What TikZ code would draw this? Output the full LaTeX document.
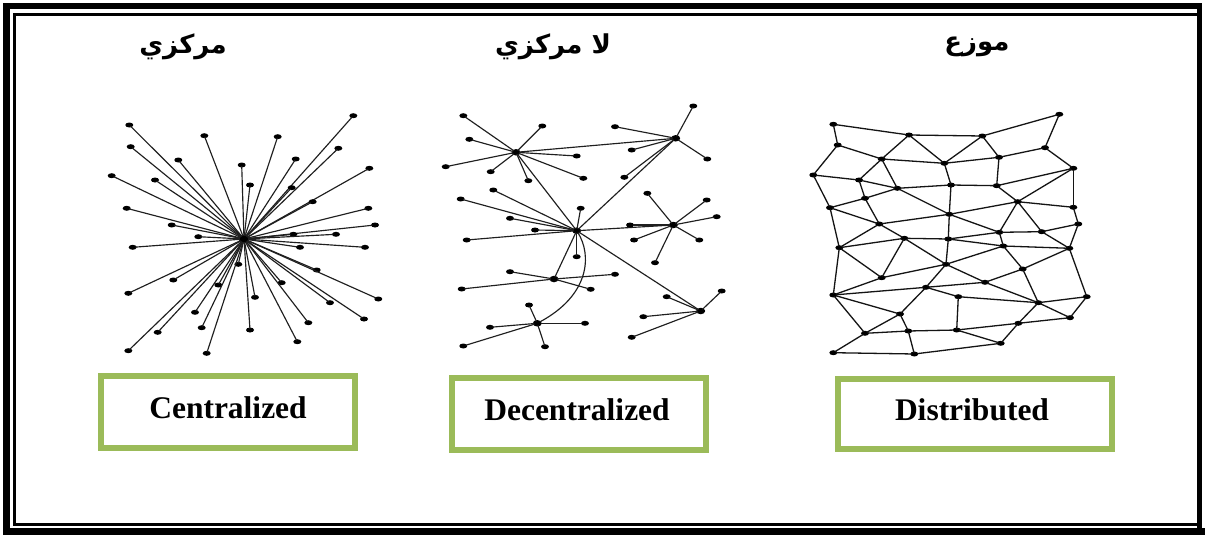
\documentclass[tikz,border=0pt]{standalone}
\usepackage{fontspec}
\setmainfont{Liberation Serif}
\newfontfamily\arabicfont[Script=Arabic]{DejaVu Sans}
\TeXXeTstate=1
\usetikzlibrary{shapes.geometric}
\definecolor{boxgreen}{HTML}{9BBB59}
\begin{document}
\begin{tikzpicture}[x=1pt,y=-1pt,
  dot/.style={ellipse,fill=black,draw=none,minimum width=8pt,minimum height=5pt,inner sep=0pt},
  hub/.style={ellipse,fill=black,draw=none,minimum width=9pt,minimum height=6.5pt,inner sep=0pt},
  edge/.style={draw=black!88,line width=1.15pt,shorten <=-1.5pt,shorten >=-1.5pt},
  mesh/.style={draw=black!92,line width=1.3pt,shorten <=-1.5pt,shorten >=-1.5pt},
  labelbox/.style={draw=boxgreen,line width=6pt,fill=white,inner sep=0pt},
  title/.style={font=\fontsize{31.5}{36}\selectfont\bfseries,anchor=base,inner sep=0pt},
  head/.style={font=\arabicfont\bfseries\fontsize{26}{30}\selectfont,inner sep=0pt}]
\useasboundingbox[fill=white] (0,0) rectangle (1205,535);
% page border
\fill[black] (3,3) rectangle (10,535);
\fill[black] (3,3) rectangle (1202,9.5);
\fill[black] (3,528) rectangle (1205,535);
\fill[black] (1197,3) rectangle (1202,528);
\draw[black,line width=3pt] (14.5,14.5) rectangle (1198,524.5);

% headings
\node[head] (h-c) at (183,47) {\beginR مركزي\endR};
\node[head] (h-d) at (553,47) {\beginR لا مركزي\endR};
\node[head] (h-s) at (977,47) {\beginR موزع\endR};

% label boxes
\node[labelbox,minimum width=254pt,minimum height=72pt] (b-c) at (228,412) {};
\node[labelbox,minimum width=254pt,minimum height=72pt] (b-d) at (579,414) {};
\node[labelbox,minimum width=274pt,minimum height=70pt] (b-s) at (975,414) {};
\node[title] (t-c) at (228,418) {Centralized};
\node[title] (t-d) at (577,420) {Decentralized};
\node[title] (t-s) at (972,420) {Distributed};

% centralized
\node[hub,minimum width=11pt,minimum height=9pt] (c0) at (244,239) {};
\foreach \x/\y [count=\i] in {129.3/125,204.3/135.7,277.7/136.7,353.3/115.7,130.7/146.7,178.3/160,241.7/165,295.7/159,338.3/148.3,111.7/175.7,155/180,250/185,291.7/187.7,369.3/168.3,312.7/201.7,126.7/208.3,368.3/208.3,171.7/225,375/225,198.3/236.7,293.3/234.3,336/234.3,132.7/247.3,300/247.3,365/247.3,238.3/264.3,316.7/270,173.3/280,281.7/282.7,218.3/285,128.3/293.3,255/297.3,378.3/299,330/302.7,195/312.3,308.3/322.7,364/319,157.7/332.3,201.7/327.7,250/330,297.3/341.7,128.3/350.7,206.7/353.3}
{
  \node[dot] (c\i) at (\x,\y) {};
  \draw[edge] (c0) -- (c\i);
}

% decentralized
\node[hub] (d1) at (516,152.3) {};
\node[hub] (d2) at (675.7,138.3) {};
\node[hub] (d3) at (576.7,230.7) {};
\node[hub] (d4) at (673.3,225) {};
\node[hub] (d5) at (554,279) {};
\node[hub] (d6) at (537.3,323.3) {};
\node[hub] (d7) at (700.7,311) {};
\foreach \a/\b in {d1/d2,d1/d3,d2/d3,d3/d4,d3/d5,d3/d7}
  \draw[edge] (\a) -- (\b);
\draw[edge] (d3) .. controls (592,255) and (590,295) .. (d6);
\foreach \h/\x/\y [count=\i] in {d1/463.3/115.7,d1/542.3/126,d1/469.3/139.3,d1/445.7/166.7,d1/576.7/156,d1/490.7/171.7,d1/528.3/180.7,d1/583.3/178.3,
  d2/693.3/106,d2/615/126.7,d2/631.7/150,d2/707.3/159,d2/624.3/177.3,
  d3/460.7/199,d3/493.3/190,d3/510/218.3,d3/535/230,d3/466.7/240,d3/580.7/208.3,d3/576.7/256.7,
  d4/647.3/193.3,d4/706.7/200,d4/716.7/216.7,d4/630/225,d4/634/240,d4/699.3/240,d4/655/262.7,
  d5/510/271.7,d5/461.7/289,d5/615/274.3,d5/590.7/289.3,
  d6/529/305,d6/490/327.3,d6/585/323.3,d6/463.3/346,d6/545/346.7,
  d7/721.7/291,d7/666.7/296.7,d7/643.3/316.7,d7/631.7/337.3}
{
  \node[dot] (l\i) at (\x,\y) {};
  \draw[edge] (\h) -- (l\i);
}

% distributed
\foreach \x/\y [count=\i] in {833.3/124.3,909/135,982.3/136,1059.3/114.3,837.7/145,881.7/159,944.3/163.3,999/157.3,1045/147.7,813.3/175,
  859/180,897.3/188.3,951/185,996.7/185.7,1073.3/168.3,865/198.3,1017.7/201.7,830/207.7,1073.3/207.3,949.3/214.3,
  879.3/224,1078.3/224,999.3/232.3,1041.7/231.7,904.3/238.3,948.3/239,839.3/247.7,1003.3/246,1069.3/248.3,946/264.3,
  1022.7/269,881.7/277.7,985/282.3,926/287.3,833.3/295,958.3/296.7,1086.7/296.7,1038.3/302.7,900/314,1070/317.7,
  1018.3/323.3,865/333.3,908.3/331,956.7/330,1000.7/343.3,833.3/352.7,914.3/354}
  \node[dot] (n\i) at (\x,\y) {};
\foreach \a/\b in {1/2,2/3,3/4,4/9,1/5,5/6,6/2,2/7,3/7,3/8,6/7,7/8,8/9,9/15,5/10,10/11,6/11,6/12,11/12,12/13,13/14,14/15,7/13,8/14,
  11/16,16/12,10/18,16/18,16/21,18/21,12/20,13/20,14/17,15/17,15/19,17/19,19/22,17/20,21/20,20/23,17/23,17/24,26/23,23/24,24/22,
  21/25,21/27,18/27,27/25,25/26,20/26,26/28,23/28,28/29,22/29,24/29,26/30,25/30,25/32,27/32,28/30,28/31,29/31,29/37,
  30/33,30/34,31/33,31/38,32/30,35/34,35/32,27/35,34/36,34/33,33/38,36/38,38/37,35/39,34/39,35/42,39/42,39/43,42/43,43/44,
  36/44,44/45,41/44,38/41,38/40,37/40,41/40,41/45,47/45,46/47,46/42,43/47}
  \draw[mesh] (n\a) -- (n\b);
\end{tikzpicture}
\end{document}
